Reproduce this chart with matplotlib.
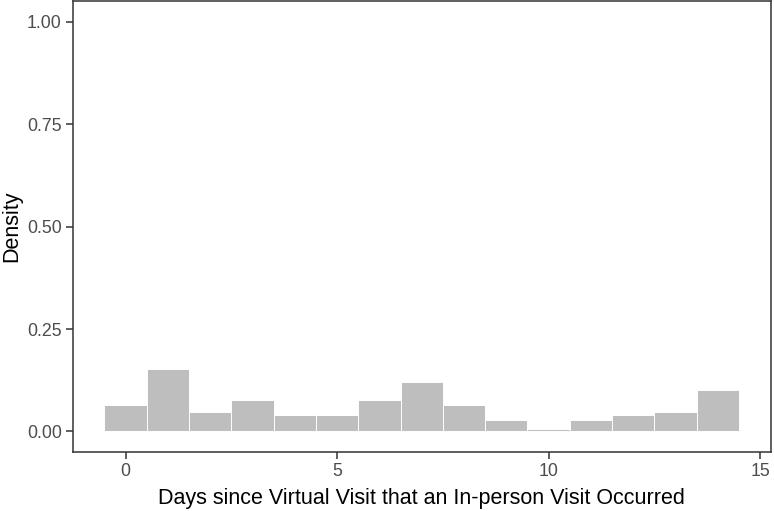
import matplotlib.pyplot as plt
import numpy as np

plt.rcParams['font.family'] = ['Liberation Sans', 'DejaVu Sans']

# histogram of days (density per 1-day bin)
days = np.arange(15)
density = [0.064, 0.153, 0.047, 0.076, 0.040, 0.040, 0.076, 0.120,
           0.065, 0.029, 0.006, 0.029, 0.040, 0.047, 0.102]

yticks = [0.00, 0.25, 0.50, 0.75, 1.00]
xticks = [0, 5, 10, 15]

fig = plt.figure(figsize=(7.74, 5.11), dpi=100)
ax = fig.add_axes([0.094, 0.1155, 0.9017, 0.882])

ax.bar(days, density, width=1.0, color='#bebebe', edgecolor='white', linewidth=0.7)

ax.set_xlim(-1.25, 15.25)
ax.set_ylim(-0.05, 1.05)
ax.set_xticks(xticks)
ax.set_yticks(yticks)
ax.set_yticklabels([f"{v:.2f}" for v in yticks])

for s in ax.spines.values():
    s.set_color('#333333')
    s.set_linewidth(1.1)

ax.tick_params(axis='both', colors='#333333', length=5, width=1.1,
               labelsize=12.8, labelcolor='#4d4d4d', pad=3)

ax.set_xlabel('Days since Virtual Visit that an In-person Visit Occurred',
              fontsize=15.5, color='black', labelpad=5.5)
ax.set_ylabel('Density', fontsize=15.5, color='black', labelpad=3)

plt.savefig('out.png', dpi=100)
